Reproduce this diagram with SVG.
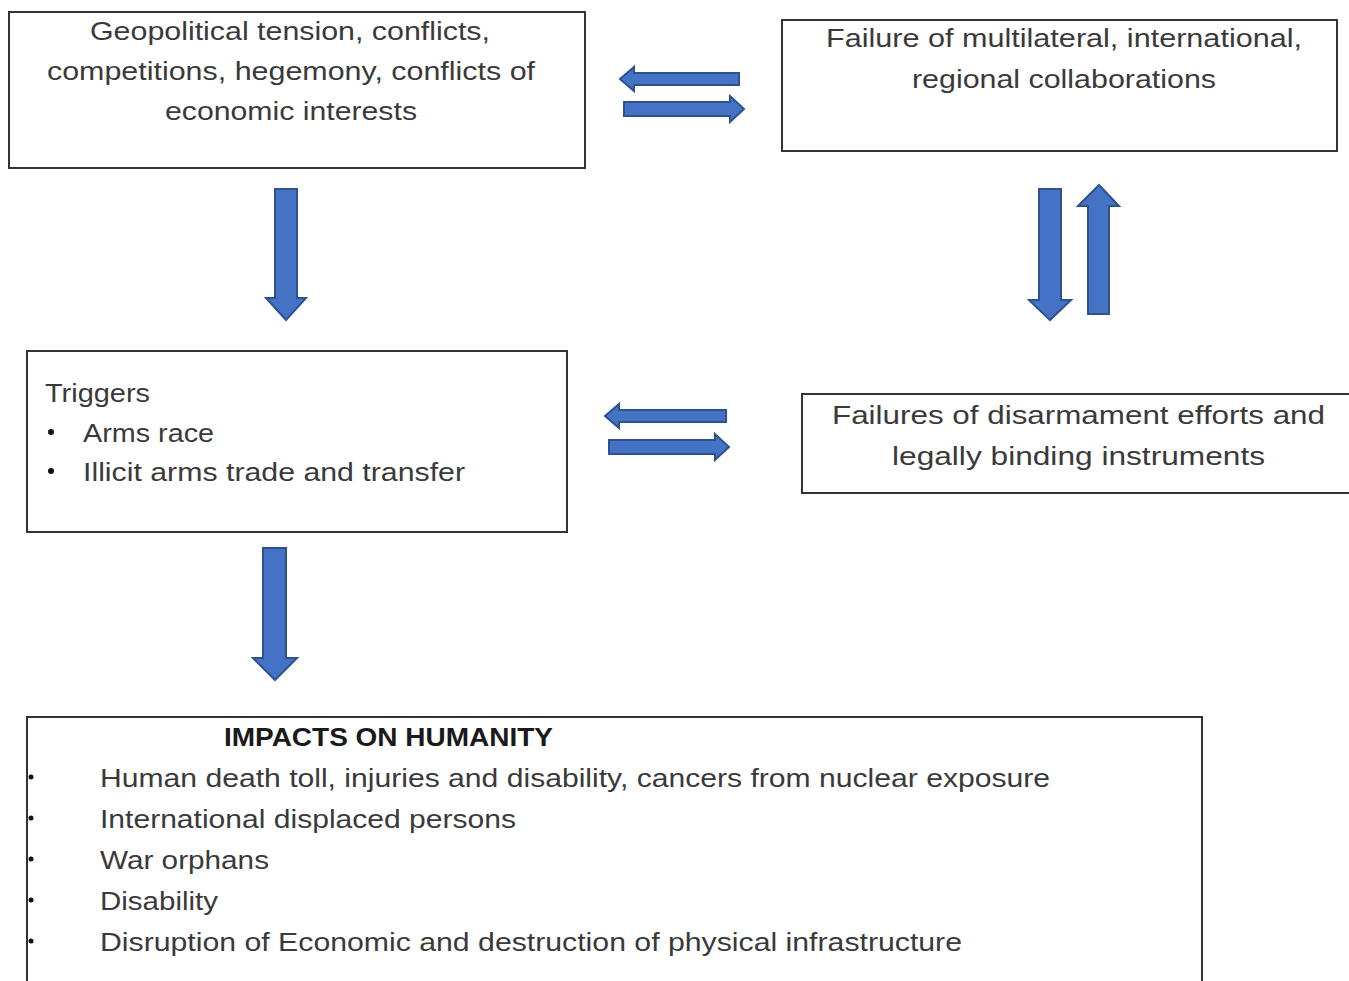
<svg xmlns="http://www.w3.org/2000/svg" width="1349" height="981" viewBox="0 0 1349 981">
<style>
.box{fill:#fff;stroke:#333;stroke-width:2}
.t{font-family:"Liberation Sans",Arial,sans-serif;font-size:26px;fill:#3a3a3a}
.b{font-weight:bold;fill:#1a1a1a}
.arr{fill:#4472C4;stroke:#2F528F;stroke-width:2;stroke-linejoin:miter}
.dot{fill:#111}
</style>
<rect width="1349" height="981" fill="#fff"/>
<g id="node-geopolitical">
<rect class="box" x="9" y="12" width="576" height="156"/>
<text class="t" x="90" y="40" textLength="400" lengthAdjust="spacingAndGlyphs">Geopolitical tension, conflicts,</text>
<text class="t" x="47" y="80" textLength="488" lengthAdjust="spacingAndGlyphs">competitions, hegemony, conflicts of</text>
<text class="t" x="165" y="120" textLength="252" lengthAdjust="spacingAndGlyphs">economic interests</text>
</g>
<g id="node-failure-multilateral">
<rect class="box" x="782" y="20" width="555" height="131"/>
<text class="t" x="826" y="47" textLength="476" lengthAdjust="spacingAndGlyphs">Failure of multilateral, international,</text>
<text class="t" x="912" y="88" textLength="304" lengthAdjust="spacingAndGlyphs">regional collaborations</text>
</g>
<g id="node-triggers">
<rect class="box" x="27" y="351" width="540" height="181"/>
<text class="t" x="45" y="402" textLength="105" lengthAdjust="spacingAndGlyphs">Triggers</text>
<circle class="dot" cx="51" cy="432" r="3"/>
<text class="t" x="83" y="442" textLength="131" lengthAdjust="spacingAndGlyphs">Arms race</text>
<circle class="dot" cx="51" cy="471" r="3"/>
<text class="t" x="83" y="481" textLength="382" lengthAdjust="spacingAndGlyphs">Illicit arms trade and transfer</text>
</g>
<g id="node-failures-disarmament">
<rect class="box" x="802" y="394" width="560" height="99"/>
<text class="t" x="832" y="424" textLength="493" lengthAdjust="spacingAndGlyphs">Failures of disarmament efforts and</text>
<text class="t" x="892" y="465" textLength="373" lengthAdjust="spacingAndGlyphs">legally binding instruments</text>
</g>
<g id="node-impacts">
<rect class="box" x="27" y="717" width="1175" height="280"/>
<text class="t b" x="224" y="746" textLength="329" lengthAdjust="spacingAndGlyphs">IMPACTS ON HUMANITY</text>
<circle class="dot" cx="31" cy="777" r="2.5"/>
<text class="t" x="100" y="787" textLength="950" lengthAdjust="spacingAndGlyphs">Human death toll, injuries and disability, cancers from nuclear exposure</text>
<circle class="dot" cx="31" cy="818" r="2.5"/>
<text class="t" x="100" y="828" textLength="416" lengthAdjust="spacingAndGlyphs">International displaced persons</text>
<circle class="dot" cx="31" cy="859" r="2.5"/>
<text class="t" x="100" y="869" textLength="169" lengthAdjust="spacingAndGlyphs">War orphans</text>
<circle class="dot" cx="31" cy="900" r="2.5"/>
<text class="t" x="100" y="910" textLength="118" lengthAdjust="spacingAndGlyphs">Disability</text>
<circle class="dot" cx="31" cy="941" r="2.5"/>
<text class="t" x="100" y="951" textLength="862" lengthAdjust="spacingAndGlyphs">Disruption of Economic and destruction of physical infrastructure</text>
</g>
<g id="connectors">
<polygon class="arr" points="620,79 634,67 634,73 739,73 739,85 634,85 634,91"/>
<polygon class="arr" points="744,109 730,96 730,102 624,102 624,116 730,116 730,122"/>
<polygon class="arr" points="605,416 619,404 619,410 726,410 726,422 619,422 619,428"/>
<polygon class="arr" points="729,447 715,434 715,440 609,440 609,454 715,454 715,460"/>
<polygon class="arr" points="275,189 297,189 297,298 306,298 286,320 266,298 275,298"/>
<polygon class="arr" points="263,548 286,548 286,658 297,658 275,680 253,658 263,658"/>
<polygon class="arr" points="1039,189 1061,189 1061,300 1071,300 1050,320 1029,300 1039,300"/>
<polygon class="arr" points="1099,185 1119,206 1109,206 1109,314 1088,314 1088,206 1078,206"/>
</g>
</svg>
